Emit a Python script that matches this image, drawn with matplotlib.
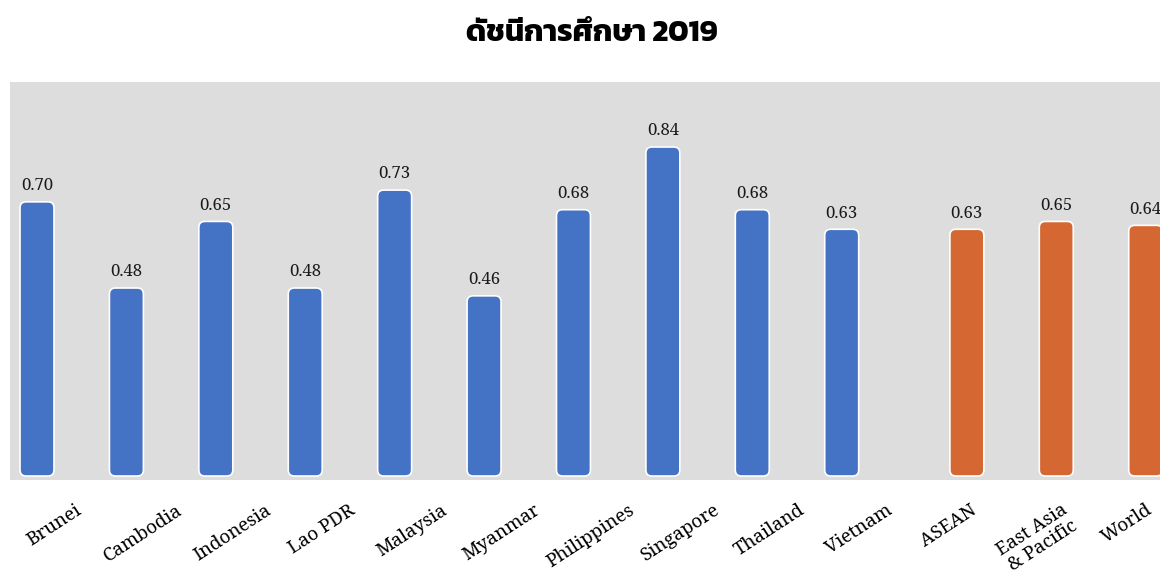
import matplotlib
matplotlib.use("Agg")
import matplotlib.pyplot as plt
from matplotlib.patches import FancyBboxPatch

# education index 2019, ASEAN members then regional aggregates
countries = ['Brunei', 'Cambodia', 'Indonesia', 'Lao PDR', 'Malaysia', 'Myanmar',
             'Philippines', 'Singapore', 'Thailand', 'Vietnam']
country_vals = [0.70, 0.48, 0.65, 0.48, 0.73, 0.46, 0.68, 0.84, 0.68, 0.63]
regions = ['ASEAN', 'East Asia\n& Pacific', 'World']
region_vals = [0.63, 0.65, 0.64]

blue = '#4472C4'
orange = '#D56732'
bg = '#DDDDDD'
serif = ['Noto Serif Thai', 'DejaVu Serif']

fig = plt.figure(figsize=(11.6, 5.8), dpi=100)
ax = fig.add_axes([10 / 1160, 100 / 580, 1.0 - 10 / 1160, 398 / 580])
ax.set_facecolor(bg)
for s in ax.spines.values():
    s.set_visible(False)

# bar positions: countries on a regular grid, regions nudged right to leave a gap
n = len(countries)
x_c = list(range(n))
x_r = [n + i + 0.4 for i in range(len(regions))]
bar_w = 0.38

ax.set_xlim(-0.302, 12.56)
ax.set_ylim(-0.0102, 1.006)

bars_c = ax.bar(x_c, country_vals, width=bar_w, color=blue)
bars_r = ax.bar(x_r, region_vals, width=bar_w, color=orange)

# swap the plain rectangles for rounded ones (same corner radius in pixels)
fig.canvas.draw()
p0 = ax.transData.transform((0, 0))
p1 = ax.transData.transform((1, 1))
px_x = p1[0] - p0[0]
px_y = p1[1] - p0[1]
radius_px = 6
for bars, col in [(bars_c, blue), (bars_r, orange)]:
    for r in bars:
        patch = FancyBboxPatch((r.get_x(), r.get_y()), r.get_width(), r.get_height(),
                               boxstyle='round,pad=0,rounding_size=%f' % (radius_px / px_x),
                               mutation_aspect=px_x / px_y,
                               facecolor=col, edgecolor='white', linewidth=1.2)
        ax.add_patch(patch)
        r.remove()

# value labels above each bar
for xs, vals in [(x_c, country_vals), (x_r, region_vals)]:
    for x, v in zip(xs, vals):
        ax.annotate('%.2f' % v, (x, v), xytext=(0, 5.5), textcoords='offset points',
                    ha='center', va='bottom', fontsize=12, family=serif, color='#1a1a1a')

# category labels sit on an even grid, slightly right of the bars
labels = countries + regions
ax.set_xticks([i + 0.19 for i in range(len(labels))])
ax.set_xticklabels(labels, rotation=33, ha='center', va='top', fontsize=13.5,
                   family=serif, linespacing=1.05)
ax.tick_params(axis='x', length=0, pad=15)
ax.set_yticks([])

fig.text(0.51, 0.943, 'ดัชนีการศึกษา 2019', ha='center', va='center',
         fontsize=22, fontweight='bold', family='Kanit')

fig.savefig('out.png', dpi=100)
